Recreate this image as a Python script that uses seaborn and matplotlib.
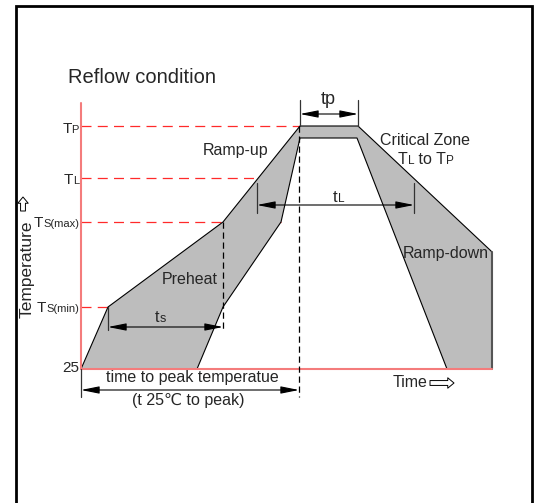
import matplotlib
matplotlib.use("Agg")
import matplotlib.pyplot as plt
import seaborn as sns

# schematic units: time to the right of the 25 degree origin, height above 25
level_subs = ["P", "L", "S(max)", "S(min)"]
level_heights = [243, 191, 147, 62]
level_ends = [219, 177, 200, 142]

outer_time = [0, 27, 142, 219, 277, 409, 411, 411]
outer_temp = [0, 62, 147, 243, 243, 119, 117, 0]
inner_time = [366, 276, 219, 200, 142, 116]
inner_temp = [0, 231, 231, 147, 62, 0]

peak_time = 218
time_end = 411
axis_top = 266

sns.set_theme(style="white")
plt.rcParams["font.family"] = ["Liberation Sans", "DejaVu Sans"]

RED = "#f47c7c"
DASH_RED = "#ff2a2a"
FILL = "#bdbdbd"
FS = 11.5


def rich(ax, x, y, parts, ha="left"):
    # chain pieces of different size on one baseline
    if ha == "left":
        prev = ax.text(x, y, parts[0][0], fontsize=parts[0][1], ha="left", va="baseline")
        for s, fs in parts[1:]:
            prev = ax.annotate(s, xy=(1, y), xycoords=(prev, "data"),
                               fontsize=fs, ha="left", va="baseline")
    else:
        prev = ax.text(x, y, parts[-1][0], fontsize=parts[-1][1], ha="right", va="baseline")
        for s, fs in reversed(parts[:-1]):
            prev = ax.annotate(s, xy=(0, y), xycoords=(prev, "data"),
                               fontsize=fs, ha="right", va="baseline")


def dim(ax, x0, x1, y):
    ax.annotate("", xy=(x1, y), xytext=(x0, y),
                arrowprops=dict(arrowstyle="<|-|>,head_length=1.1,head_width=0.22",
                                color="black", lw=0.8, shrinkA=0, shrinkB=0,
                                mutation_scale=10))


def hollow_arrow(ax, start, end, scale):
    ax.annotate("", xy=end, xytext=start,
                arrowprops=dict(arrowstyle="simple,head_length=0.45,head_width=0.75,tail_width=0.35",
                                fc="white", ec="black", lw=0.7, shrinkA=0, shrinkB=0,
                                mutation_scale=scale))


fig = plt.figure(figsize=(5.36, 5.03), dpi=100)
ax = fig.add_axes([0, 0, 1, 1])
ax.set_xlim(-81, 455)
ax.set_ylim(-134, 369)
ax.axis("off")

# outer frame
ax.plot([-65, -65, 451, 451], [-140, 363, 363, -140], color="black", lw=2, solid_joinstyle="miter")

# shaded reflow window
poly_t = outer_time + inner_time
poly_h = outer_temp + inner_temp
ax.fill(poly_t, poly_h, color=FILL, lw=0, zorder=2)
sns.lineplot(x=outer_time[:-1], y=outer_temp[:-1], sort=False, estimator=None,
             color="black", lw=0.8, ax=ax, zorder=3)
ax.plot(outer_time[-2:], outer_temp[-2:], color="#555555", lw=1.5, zorder=3)
sns.lineplot(x=inner_time, y=inner_temp, sort=False, estimator=None,
             color="black", lw=0.8, ax=ax, zorder=3)

# red guide lines
for h, end in zip(level_heights, level_ends):
    ax.plot([0, end], [h, h], color=DASH_RED, lw=0.9, ls=(0, (8, 5)), zorder=1)
ax.plot([0, 0], [0, axis_top], color=RED, lw=1.5, zorder=4)
ax.plot([0, time_end], [0, 0], color=RED, lw=1.5, zorder=4)

# black dashed verticals
ax.plot([peak_time, peak_time], [level_heights[0], -28], color="black", lw=0.9,
        ls=(0, (5, 3)), zorder=4)
ax.plot([142, 142], [147, 39], color="black", lw=0.9, ls=(0, (5, 3)), zorder=4)

# dimension ticks
tick_kw = dict(color="#333333", lw=0.9, zorder=4)
ax.plot([219, 219], [243, 269], **tick_kw)
ax.plot([277, 277], [243, 269], **tick_kw)
ax.plot([176, 176], [186, 156], **tick_kw)
ax.plot([333, 333], [186, 156], **tick_kw)
ax.plot([27, 27], [62, 39], **tick_kw)
ax.plot([0, 0], [0, -28], **tick_kw)

dim(ax, 219, 277, 255)
dim(ax, 176, 333, 164)
dim(ax, 27, 142, 42)
dim(ax, 0, peak_time, -21)

# temperature level labels
label_base = [236, 185, 142, 57]
for sub, yb in zip(level_subs, label_base):
    rich(ax, -2, yb, [("T", 11), (sub, 8)], ha="right")
ax.text(-2, -3, "25", fontsize=11, ha="right", va="baseline")

# texts
ax.text(-13, 286, "Reflow condition", fontsize=14.5, ha="left", va="baseline")
ax.text(122, 214, "Ramp-up", fontsize=FS, ha="left", va="baseline")
ax.text(299, 224, "Critical Zone", fontsize=FS, ha="left", va="baseline")
rich(ax, 317, 205, [("T", FS), ("L", 8.5), (" to T", FS), ("P", 8.5)])
ax.text(81, 85, "Preheat", fontsize=FS, ha="left", va="baseline")
ax.text(322, 111, "Ramp-down", fontsize=FS, ha="left", va="baseline")
rich(ax, 74, 47, [("t", 11.5), ("s", 9)])
rich(ax, 252, 167, [("t", 12), ("L", 8.5)])
ax.text(240, 265, "tp", fontsize=13, ha="left", va="baseline")
ax.text(111, -13, "time to peak temperatue", fontsize=11.5, ha="center", va="baseline")
ax.text(107, -36, "(t 25\u2103 to peak)", fontsize=11.5, ha="center", va="baseline")
ax.text(312, -18, "Time", fontsize=FS, ha="left", va="baseline")
hollow_arrow(ax, (349, -14), (373, -14), 10)
ax.text(-49, 51, "Temperature", fontsize=12.5, rotation=90,
        rotation_mode="anchor", ha="left", va="baseline")
hollow_arrow(ax, (-58, 158), (-58, 172), 10)

fig.savefig("out.png", dpi=100)
